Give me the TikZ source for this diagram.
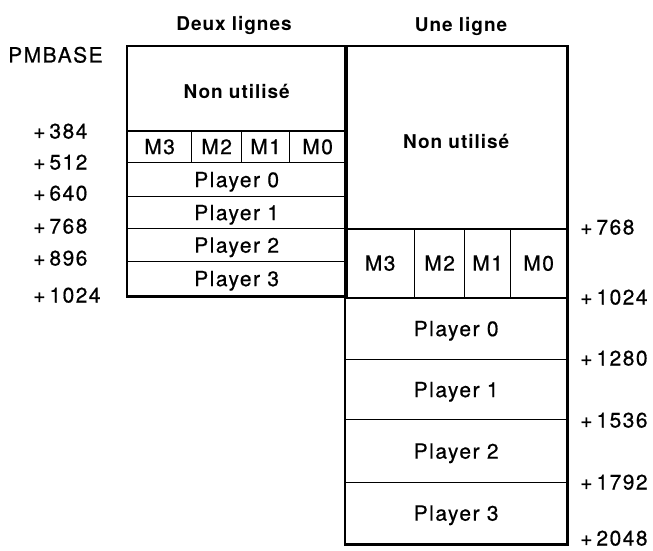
\documentclass[tikz,border=0pt]{standalone}
\usepackage{fontspec}
\setmainfont{TeX Gyre Heros}[LetterSpace=7,FakeBold=0.6]
\newfontfamily\hdfont{TeX Gyre Heros}[LetterSpace=5]
\begin{document}
\begin{tikzpicture}[x=1pt,y=-1pt,
  txt/.style={font=\fontsize{21}{24}\selectfont, text height=15pt, text depth=0pt},
  cellbox/.style={txt, draw, line width=1.3pt, inner sep=0pt, anchor=north west},
  bold/.style={font=\fontsize{19}{22}\selectfont\hdfont\bfseries},
  lbl/.style={txt, anchor=west, inner sep=0pt},
  outer/.style={line width=2.8pt},
  thickline/.style={line width=2.2pt}]
\useasboundingbox (0,0) rectangle (653,551);
% headers
\node[bold, inner sep=0pt] (h1) at (234,25) {Deux lignes};
\node[bold, inner sep=0pt] (h2) at (461,26) {Une ligne};
% left block
\node[cellbox, minimum width=218pt, minimum height=84pt] (lnu) at (127,46) {};
\node[bold, text height=13pt, text depth=0pt, inner sep=0pt] (lnut) at ([yshift=-3pt]lnu.center) {Non utilisé};
\node[cellbox, minimum width=64pt, minimum height=32pt] (lm3) at (127,130) {M3};
\node[cellbox, minimum width=50pt, minimum height=32pt] (lm2) at (191,130) {M2};
\node[cellbox, minimum width=48pt, minimum height=32pt] (lm1) at (241,130) {M1};
\node[cellbox, minimum width=56pt, minimum height=32pt] (lm0) at (289,130) {M0};
\node[cellbox, minimum width=218pt, minimum height=34pt] (lp0) at (127,162) {Player 0};
\node[cellbox, minimum width=218pt, minimum height=32pt] (lp1) at (127,196) {Player 1};
\node[cellbox, minimum width=218pt, minimum height=33pt] (lp2) at (127,228) {Player 2};
\node[cellbox, minimum width=218pt, minimum height=34pt] (lp3) at (127,261) {Player 3};
% right block
\node[cellbox, minimum width=221pt, minimum height=182pt] (rnu) at (345,46) {};
\node[bold, text height=13pt, text depth=0pt, inner sep=0pt] (rnut) at ([yshift=-4pt]rnu.center) {Non utilisé};
\node[cellbox, minimum width=69pt, minimum height=69pt] (rm3) at (345,228) {M3};
\node[cellbox, minimum width=50pt, minimum height=69pt] (rm2) at (414,228) {M2};
\node[cellbox, minimum width=46pt, minimum height=69pt] (rm1) at (464,228) {M1};
\node[cellbox, minimum width=56pt, minimum height=69pt] (rm0) at (510,228) {M0};
\node[cellbox, minimum width=221pt, minimum height=62pt] (rp0) at (345,297) {Player 0};
\node[cellbox, minimum width=221pt, minimum height=60pt] (rp1) at (345,359) {Player 1};
\node[cellbox, minimum width=221pt, minimum height=63pt] (rp2) at (345,419) {Player 2};
\node[cellbox, minimum width=221pt, minimum height=61pt] (rp3) at (345,482) {Player 3};
% heavy lines
\draw[outer] (lnu.north west) rectangle (lp3.south east);
\draw[outer] (rnu.north west) rectangle (rp3.south east);
\draw[thickline] (lnu.south west) -- (lnu.south east);
\draw[thickline] (rnu.south west) -- (rnu.south east);
\draw[thickline] (rm3.south west) -- (rm0.south east);
% left labels
\node[lbl] (pm) at (8,55) {PMBASE};
\node[lbl] (a384) at (33,131) {+\kern4pt384};
\node[lbl] (a512) at (33,162) {+\kern4pt512};
\node[lbl] (a640) at (33,193) {+\kern4pt640};
\node[lbl] (a768) at (33,226) {+\kern4pt768};
\node[lbl] (a896) at (33,258) {+\kern4pt896};
\node[lbl] (a1024) at (33,295) {+\kern4pt1024};
% right labels
\node[lbl] (b768) at (580,227) {+\kern4pt768};
\node[lbl] (b1024) at (580,297) {+\kern4pt1024};
\node[lbl] (b1280) at (580,358) {+\kern4pt1280};
\node[lbl] (b1536) at (580,420) {+\kern4pt1536};
\node[lbl] (b1792) at (580,482) {+\kern4pt1792};
\node[lbl] (b2048) at (580,538) {+\kern4pt2048};
\end{tikzpicture}
\end{document}
